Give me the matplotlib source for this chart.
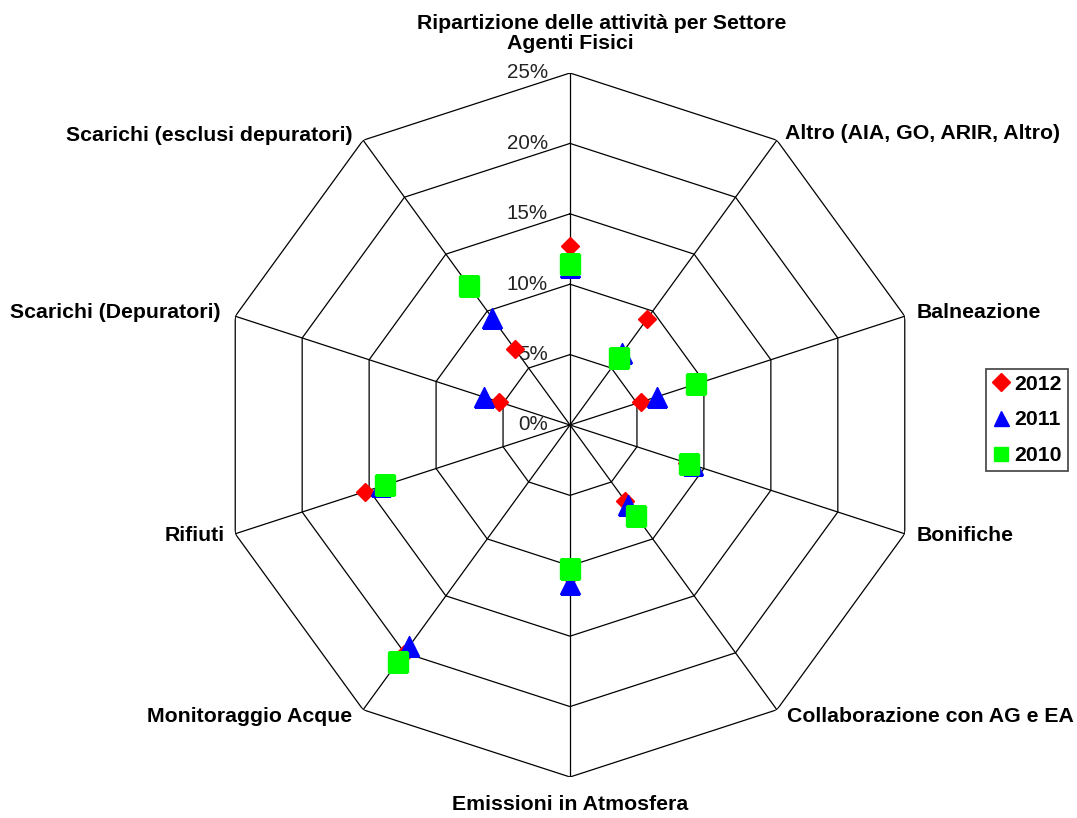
import numpy as np
import matplotlib
matplotlib.use("Agg")
import matplotlib.pyplot as plt

plt.rcParams['font.family'] = ['Liberation Sans', 'DejaVu Sans']

categories = ["Agenti Fisici", "Altro (AIA, GO, ARIR, Altro)", "Balneazione", "Bonifiche",
              "Collaborazione con AG e EA", "Emissioni in Atmosfera", "Monitoraggio Acque",
              "Rifiuti", "Scarichi (Depuratori)", "Scarichi (esclusi depuratori)"]
v2012 = [12.7, 9.3, 5.3, 8.7, 6.7, 10.7, 20.1, 15.3, 5.3, 6.7]
v2011 = [11.2, 6.3, 6.5, 9.2, 7.0, 11.3, 19.4, 14.1, 6.4, 9.4]
v2010 = [11.4, 5.9, 9.4, 8.9, 8.0, 10.2, 20.8, 13.8, np.nan, 12.2]
rings = [5, 10, 15, 20, 25]
tick_labels = ["0%", "5%", "10%", "15%", "20%", "25%"]
title = "Ripartizione delle attività per Settore"

W, H = 1077, 818
fig = plt.figure(figsize=(W/100, H/100), dpi=100)
cx, cy, R = 570, 425, 352
ax = fig.add_axes([(cx-R)/W, (H-cy-R)/H, 2*R/W, 2*R/H], projection='polar')
ax.set_theta_zero_location('N')
ax.set_theta_direction(-1)
ax.set_ylim(0, 25)
ax.grid(False)
ax.spines['polar'].set_visible(False)
ax.set_xticks([])
ax.set_yticks([])
ax.patch.set_alpha(0)

n = len(categories)
theta = np.arange(n) * 2*np.pi/n
theta_c = np.append(theta, theta[0])

for r in rings:
    ax.plot(theta_c, [r]*(n+1), color='black', lw=0.9, zorder=1)
for t in theta:
    ax.plot([t, t], [0, 25], color='black', lw=0.9, zorder=1)

# radial tick labels
for i, lab in enumerate(tick_labels):
    ax.annotate(lab, xy=(0, i*5), xytext=(-16, 0), textcoords='offset points',
                ha='right', va='center', fontsize=14.8, color='#222222', zorder=2)

ms = dict(linestyle='none', zorder=3)
ax.plot(theta, v2012, marker='D', color='#FF0000', markersize=9.3, label='2012', **ms)
ax.plot(theta, v2011, marker='^', color='#0000FF', markersize=15, label='2011', **ms)
ax.plot(theta, v2010, marker='s', color='#00FF00', markersize=14.4, label='2010', **ms)

FS = 15.3
# category labels (offsets in pixels -> points)
offs = [(0, 24, 'center', 'baseline'), (8, 7, 'left', 'center'), (12, 4, 'left', 'center'),
        (12, -2, 'left', 'center'), (10, -7, 'left', 'center'), (0, -28, 'center', 'center'),
        (-11, -7, 'right', 'center'), (-10, -2, 'right', 'center'),
        (-15, 4, 'right', 'center'), (-11, 5, 'right', 'center')]
for t, lab, (dx, dy, ha, va) in zip(theta, categories, offs):
    ax.annotate(lab, xy=(t, 25), xytext=(dx*0.72, dy*0.72), textcoords='offset points',
                ha=ha, va=va, fontsize=FS, fontweight='bold', annotation_clip=False)

fig.text(602/W, 1-29/H, title, ha='center', va='baseline', fontsize=FS, fontweight='bold')

leg = fig.legend(loc='center', bbox_to_anchor=(1027/W, 1-420/H), frameon=True,
                 fancybox=False, edgecolor='#222222', prop=dict(size=FS, weight='bold'),
                 handletextpad=0.25, handlelength=0.75, borderpad=0.3, labelspacing=0.78,
                 borderaxespad=0)
leg.get_frame().set_linewidth(1.3)
for h, s in zip(leg.legend_handles, [1.0, 0.72, 0.68]):
    h.set_markersize(h.get_markersize()*s)

fig.savefig('out.png', dpi=100, facecolor='white')
